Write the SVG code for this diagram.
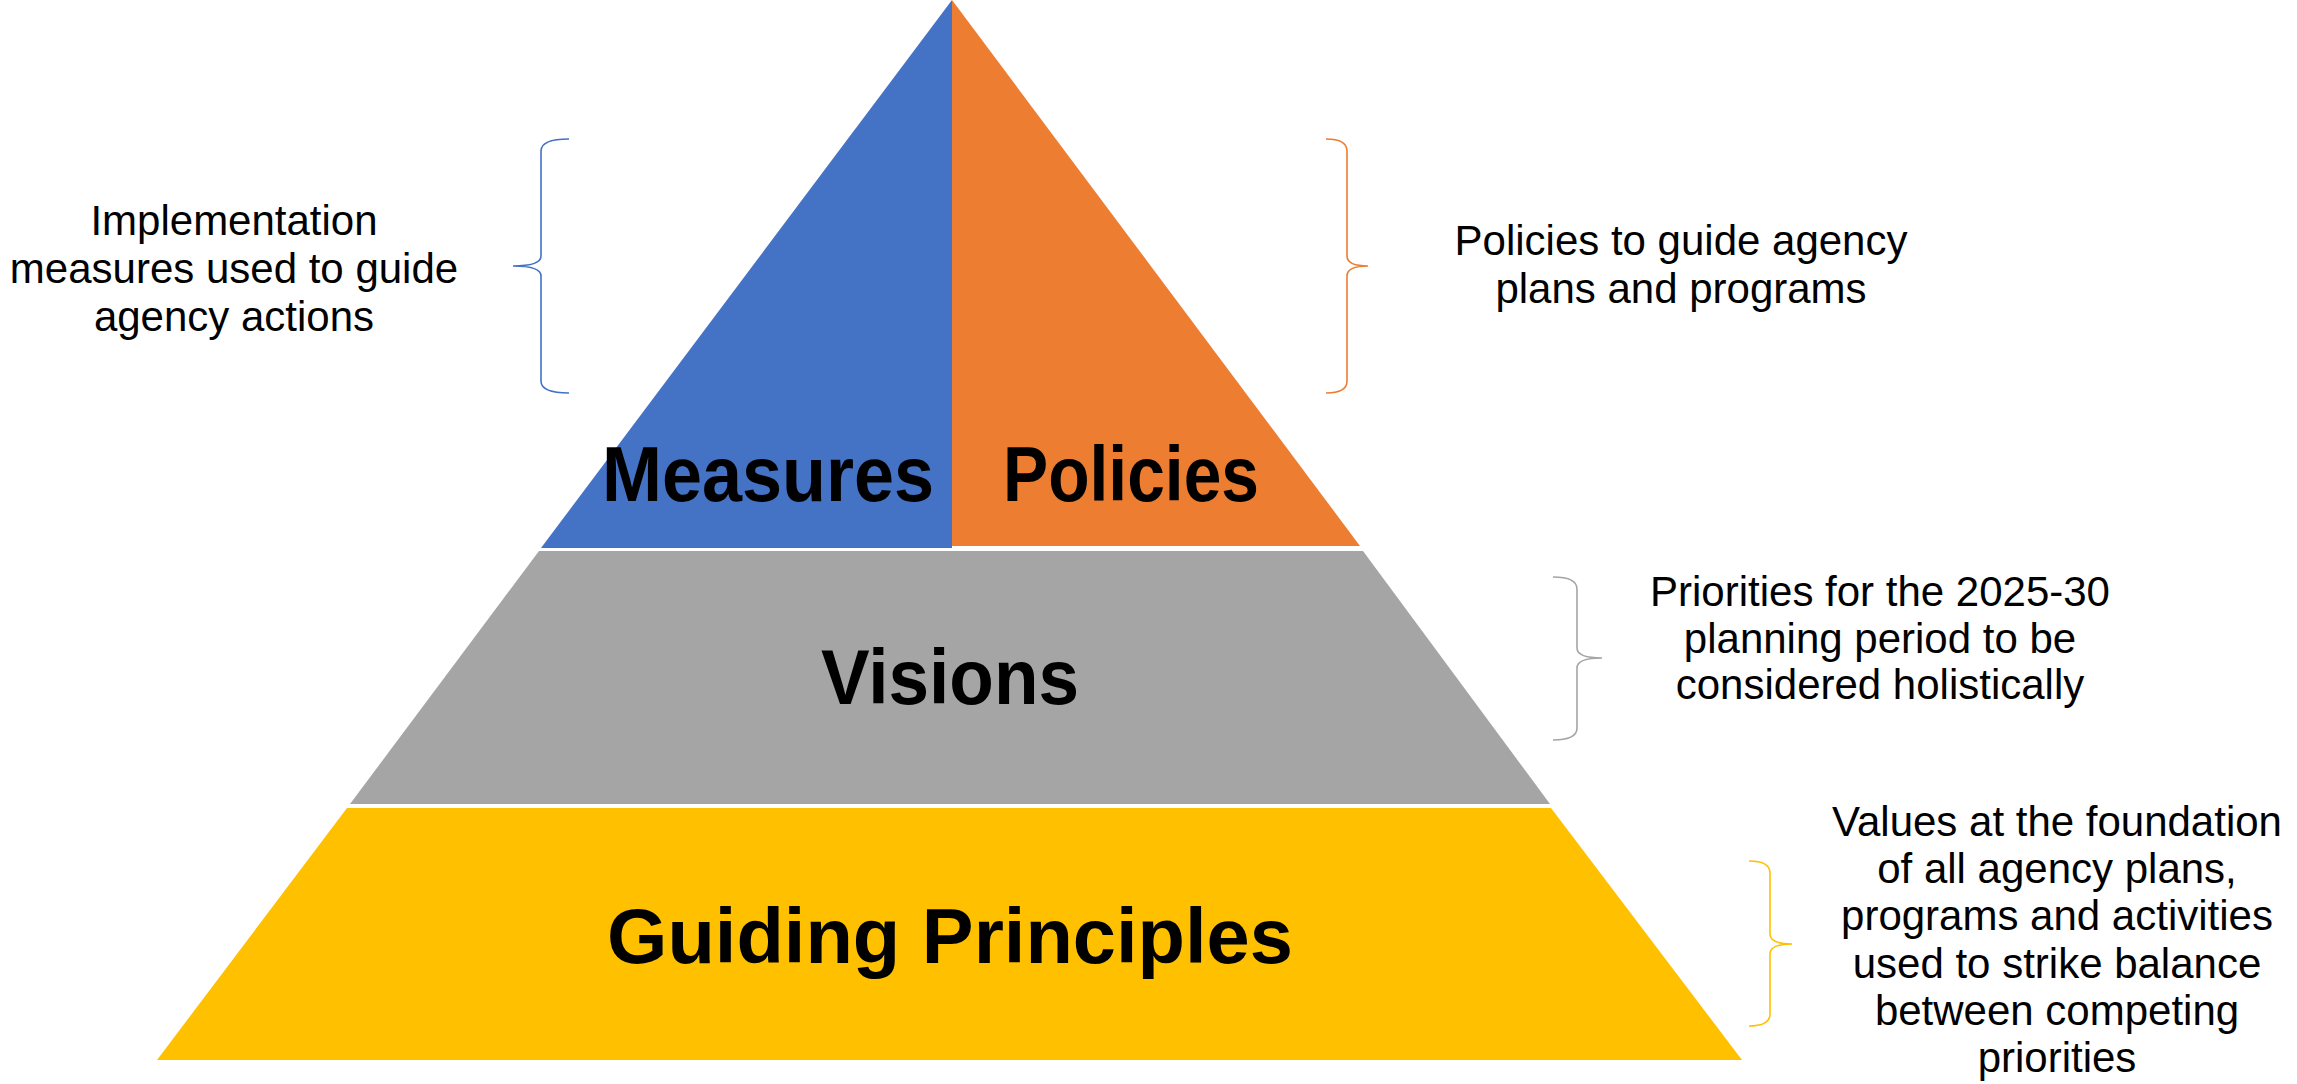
<svg xmlns="http://www.w3.org/2000/svg" width="2297" height="1084" viewBox="0 0 2297 1084">
<style>
.lbl{font-family:"Liberation Sans",Arial,sans-serif;font-weight:bold;font-size:78px;fill:#000;text-anchor:middle}
.txt{font-family:"Liberation Sans",Arial,sans-serif;font-size:42px;fill:#000;text-anchor:middle}
.br{fill:none;stroke-width:1.6}
</style>
<rect width="2297" height="1084" fill="#fff"/>
<g id="measures">
<polygon points="952,0 952,548 541,548" fill="#4472C4"/>
<text class="lbl" x="768" y="501" textLength="332" lengthAdjust="spacingAndGlyphs">Measures</text>
</g>
<g id="policies">
<polygon points="952,0 1360,546 952,546" fill="#ED7D31"/>
<text class="lbl" x="1131" y="501" textLength="256" lengthAdjust="spacingAndGlyphs">Policies</text>
</g>
<g id="visions">
<polygon points="539,551 1363,551 1550,804 350,804" fill="#A5A5A5"/>
<text class="lbl" x="950" y="704" textLength="258" lengthAdjust="spacingAndGlyphs">Visions</text>
</g>
<g id="guiding-principles">
<polygon points="347,808 1551,808 1742,1060 157,1060" fill="#FFC000"/>
<text class="lbl" x="950" y="963" textLength="686" lengthAdjust="spacingAndGlyphs">Guiding Principles</text>
</g>
<g id="connectors">
<path class="br" stroke="#4472C4" d="M569,139 Q541,139 541,151 L541,256 Q541,266 513,266 Q541,266 541,276 L541,381 Q541,393 569,393"/>
<path class="br" stroke="#ED7D31" d="M1326,139 Q1347,139 1347,151 L1347,256 Q1347,266 1368,266 Q1347,266 1347,276 L1347,381 Q1347,393 1326,393"/>
<path class="br" stroke="#A5A5A5" d="M1553,577 Q1577,577 1577,589 L1577,648 Q1577,658 1602,658 Q1577,658 1577,668 L1577,728 Q1577,740 1553,740"/>
<path class="br" stroke="#FFC000" d="M1749,861 Q1770,861 1770,873 L1770,934 Q1770,944 1792,944 Q1770,944 1770,954 L1770,1014 Q1770,1026 1749,1026"/>
</g>
<g id="note-measures">
<text class="txt" x="234" y="235">Implementation</text>
<text class="txt" x="234" y="283">measures used to guide</text>
<text class="txt" x="234" y="331">agency actions</text>
</g>
<g id="note-policies">
<text class="txt" x="1681" y="255">Policies to guide agency</text>
<text class="txt" x="1681" y="303">plans and programs</text>
</g>
<g id="note-visions">
<text class="txt" x="1880" y="606">Priorities for the 2025-30</text>
<text class="txt" x="1880" y="653">planning period to be</text>
<text class="txt" x="1880" y="699">considered holistically</text>
</g>
<g id="note-principles">
<text class="txt" x="2057" y="836">Values at the foundation</text>
<text class="txt" x="2057" y="883">of all agency plans,</text>
<text class="txt" x="2057" y="930">programs and activities</text>
<text class="txt" x="2057" y="978">used to strike balance</text>
<text class="txt" x="2057" y="1025">between competing</text>
<text class="txt" x="2057" y="1072">priorities</text>
</g>
</svg>
